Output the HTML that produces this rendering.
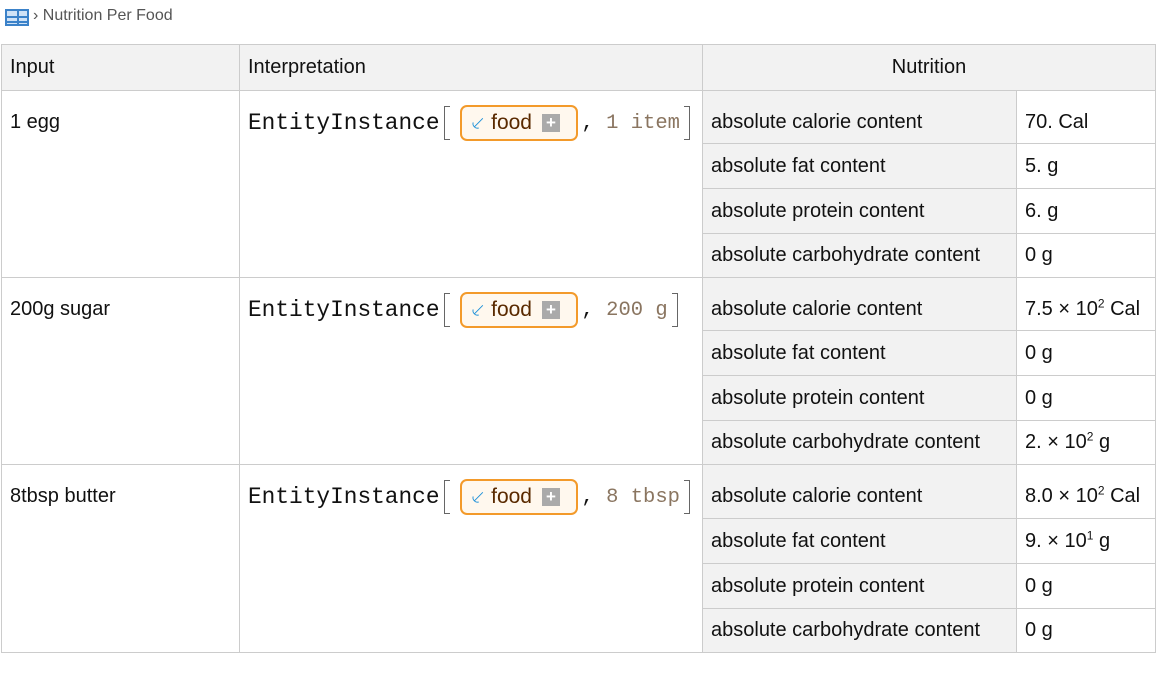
<!DOCTYPE html>
<html><head><style>
body{margin:0;width:1156px;height:680px;background:#fff;font-family:"Liberation Sans",sans-serif;color:#111;position:relative;overflow:hidden}
.a{position:absolute;box-sizing:border-box}
.c{position:absolute;box-sizing:border-box;border:1px solid #ccc;font-size:20px;padding-left:8px;display:flex;align-items:center}
.t1{padding-top:10px}
.g{background:#f2f2f2}
.ln{display:flex;align-items:center;height:38px;white-space:nowrap}
.mono{font-family:"Liberation Mono",monospace;font-size:22.8px}
.m2{font-family:"Liberation Mono",monospace;font-size:20.5px}
.br{display:inline-block;width:5px;height:32px;border:1.5px solid #666;margin-left:4px;margin-right:2px}
.pill{display:inline-flex;align-items:center;height:36px;width:118px;box-sizing:border-box;border:2px solid #f39a2a;border-radius:7px;background:#fff8ee;padding:0 8px;font-size:21px;color:#5a2a00;margin:0 4px 0 8px}
.plus{display:inline-block;width:18px;height:18px;background:#aaa;color:#fff;font-size:17px;line-height:18px;text-align:center;margin-left:10px;font-weight:bold}
sup{font-size:12px;line-height:0}
</style></head><body>
<div class="a" style="left:5px;top:9px;width:24px;height:17px;border:2px solid #3b82c9;background:linear-gradient(#3b82c9,#3b82c9) 0 5px/100% 2px no-repeat,linear-gradient(#3b82c9,#3b82c9) 0 10px/100% 2px no-repeat,linear-gradient(#3b82c9,#3b82c9) 10px 0/2px 100% no-repeat,#cfe2f6"></div>
<div class="a" style="left:33px;top:7px;font-size:16px;color:#555">› Nutrition Per Food</div>

<div class="c g" style="left:1px;top:44px;width:239px;height:47px">Input</div>
<div class="c g" style="left:239px;top:44px;width:464px;height:47px">Interpretation</div>
<div class="c g" style="left:702px;top:44px;width:454px;height:47px;justify-content:center;padding:0">Nutrition</div>

<div class="c" style="left:1px;top:90px;width:239px;height:188px;align-items:flex-start;padding-top:20px">1 egg</div>
<div class="c" style="left:1px;top:277px;width:239px;height:188px;align-items:flex-start;padding-top:20px">200g sugar</div>
<div class="c" style="left:1px;top:464px;width:239px;height:189px;align-items:flex-start;padding-top:20px">8tbsp butter</div>

<div class="c" style="left:239px;top:90px;width:464px;height:188px;align-items:flex-start;padding-top:13px"><div class="ln"><span class="mono">EntityInstance</span><span class="br" style="border-right:none"></span><span class="pill"><span style="color:#1a8fd8">⸔</span>&nbsp;food<span class="plus">+</span></span><span class="m2">, <span style="color:#8a7560">1 item</span></span><span class="br" style="border-left:none"></span></div></div>
<div class="c" style="left:239px;top:277px;width:464px;height:188px;align-items:flex-start;padding-top:13px"><div class="ln"><span class="mono">EntityInstance</span><span class="br" style="border-right:none"></span><span class="pill"><span style="color:#1a8fd8">⸔</span>&nbsp;food<span class="plus">+</span></span><span class="m2">, <span style="color:#8a7560">200 g</span></span><span class="br" style="border-left:none"></span></div></div>
<div class="c" style="left:239px;top:464px;width:464px;height:189px;align-items:flex-start;padding-top:13px"><div class="ln"><span class="mono">EntityInstance</span><span class="br" style="border-right:none"></span><span class="pill"><span style="color:#1a8fd8">⸔</span>&nbsp;food<span class="plus">+</span></span><span class="m2">, <span style="color:#8a7560">8 tbsp</span></span><span class="br" style="border-left:none"></span></div></div>

<div class="c g t1" style="left:702px;top:90px;width:315px;height:54px">absolute calorie content</div><div class="c t1" style="left:1016px;top:90px;width:140px;height:54px"><span>70. Cal</span></div>
<div class="c g" style="left:702px;top:143px;width:315px;height:46px">absolute fat content</div><div class="c" style="left:1016px;top:143px;width:140px;height:46px"><span>5. g</span></div>
<div class="c g" style="left:702px;top:188px;width:315px;height:46px">absolute protein content</div><div class="c" style="left:1016px;top:188px;width:140px;height:46px"><span>6. g</span></div>
<div class="c g" style="left:702px;top:233px;width:315px;height:45px">absolute carbohydrate content</div><div class="c" style="left:1016px;top:233px;width:140px;height:45px"><span>0 g</span></div>

<div class="c g t1" style="left:702px;top:277px;width:315px;height:54px">absolute calorie content</div><div class="c t1" style="left:1016px;top:277px;width:140px;height:54px"><span>7.5 × 10<sup>2</sup> Cal</span></div>
<div class="c g" style="left:702px;top:330px;width:315px;height:46px">absolute fat content</div><div class="c" style="left:1016px;top:330px;width:140px;height:46px"><span>0 g</span></div>
<div class="c g" style="left:702px;top:375px;width:315px;height:46px">absolute protein content</div><div class="c" style="left:1016px;top:375px;width:140px;height:46px"><span>0 g</span></div>
<div class="c g" style="left:702px;top:420px;width:315px;height:45px">absolute carbohydrate content</div><div class="c" style="left:1016px;top:420px;width:140px;height:45px"><span>2. × 10<sup>2</sup> g</span></div>

<div class="c g t1" style="left:702px;top:464px;width:315px;height:55px">absolute calorie content</div><div class="c t1" style="left:1016px;top:464px;width:140px;height:55px"><span>8.0 × 10<sup>2</sup> Cal</span></div>
<div class="c g" style="left:702px;top:518px;width:315px;height:46px">absolute fat content</div><div class="c" style="left:1016px;top:518px;width:140px;height:46px"><span>9. × 10<sup>1</sup> g</span></div>
<div class="c g" style="left:702px;top:563px;width:315px;height:46px">absolute protein content</div><div class="c" style="left:1016px;top:563px;width:140px;height:46px"><span>0 g</span></div>
<div class="c g" style="left:702px;top:608px;width:315px;height:45px">absolute carbohydrate content</div><div class="c" style="left:1016px;top:608px;width:140px;height:45px"><span>0 g</span></div>
</body></html>
